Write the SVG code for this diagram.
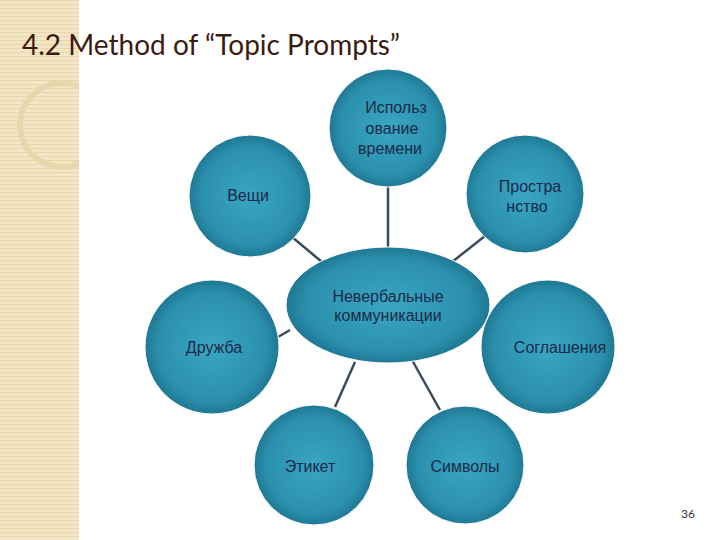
<svg xmlns="http://www.w3.org/2000/svg" width="720" height="540" viewBox="0 0 720 540">
<defs>
<radialGradient id="g" cx="50%" cy="50%" r="50%"><stop offset="0" stop-color="#3aa6c2"/><stop offset="0.8" stop-color="#2b90ad"/><stop offset="1" stop-color="#1f7893"/></radialGradient>
<pattern id="p" width="4" height="4" patternUnits="userSpaceOnUse"><rect width="4" height="4" fill="#f3e6c6"/><rect width="4" height="1" fill="#e8d6aa"/></pattern>
<clipPath id="cl"><rect width="79" height="540"/></clipPath>
</defs>
<style>
.n{fill:url(#g);stroke:#ffffff;stroke-width:1}
.t{font-family:"Liberation Sans",Arial,sans-serif;font-size:16px;fill:#1a2a4a;text-anchor:middle}
.c line{stroke:#3b4b5b;stroke-width:2.5}
</style>
<rect width="720" height="540" fill="#fff"/>
<rect width="79" height="540" fill="url(#p)"/>
<circle cx="62" cy="125" r="42" fill="none" stroke="#e6d7ad" stroke-width="6" clip-path="url(#cl)"/>
<text x="22" y="55" font-family="Lato,'Gill Sans',sans-serif" font-size="28" fill="#3b1a12">4.2 Method of “Topic Prompts”</text>
<g class="c">
<line x1="388" y1="186" x2="388" y2="248"/>
<line x1="292" y1="237" x2="322" y2="262"/>
<line x1="485" y1="236" x2="452" y2="262"/>
<line x1="278" y1="337" x2="290" y2="330"/>
<line x1="482" y1="337" x2="488" y2="333"/>
<line x1="355" y1="362" x2="335" y2="407"/>
<line x1="412" y1="360" x2="440" y2="410"/>
</g>
<g id="n-time"><circle class="n" cx="388" cy="128" r="59"/><text class="t"><tspan x="396" y="113">Использ</tspan><tspan x="392" y="134">ование</tspan><tspan x="390" y="154">времени</tspan></text></g>
<g id="n-things"><circle class="n" cx="250" cy="196" r="61"/><text class="t" x="248" y="201">Вещи</text></g>
<g id="n-space"><circle class="n" cx="525" cy="194" r="59"/><text class="t"><tspan x="530" y="192">Простра</tspan><tspan x="527" y="212">нство</tspan></text></g>
<g id="n-friend"><circle class="n" cx="212" cy="347" r="67"/><text class="t" x="214" y="353">Дружба</text></g>
<g id="n-agree"><circle class="n" cx="548" cy="347" r="67"/><text class="t" x="560" y="353">Соглашения</text></g>
<g id="n-etiq"><circle class="n" cx="314" cy="465" r="60"/><text class="t" x="310" y="472">Этикет</text></g>
<g id="n-sym"><circle class="n" cx="465" cy="465" r="59"/><text class="t" x="465" y="472">Символы</text></g>
<g id="n-center"><ellipse class="n" cx="388" cy="305" rx="102" ry="58"/><text class="t"><tspan x="388" y="302">Невербальные</tspan><tspan x="388" y="321">коммуникации</tspan></text></g>
<text x="695" y="518" font-family="Lato,sans-serif" font-size="12" fill="#333" text-anchor="end">36</text>
</svg>
